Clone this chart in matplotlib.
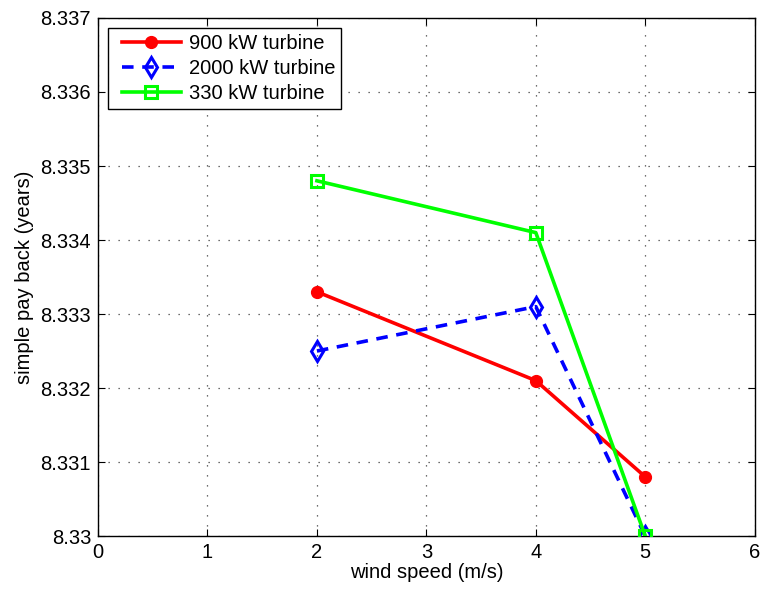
import matplotlib
matplotlib.use("Agg")
import matplotlib.pyplot as plt
from matplotlib.lines import Line2D
from matplotlib.legend_handler import HandlerLine2D

plt.rcParams['font.family'] = ['Liberation Sans', 'DejaVu Sans']

wind_speed = [2, 4, 5]
payback_900 = [8.3333, 8.3321, 8.3308]
payback_2000 = [8.3325, 8.3331, 8.3300]
payback_330 = [8.3348, 8.3341, 8.3300]

FS = 14.5

fig = plt.figure(figsize=(7.6, 5.9), dpi=100)
ax = fig.add_axes([0.129, 0.0915, 0.864, 0.878])

ax.plot(wind_speed, payback_900, color='#ff0000', lw=2.6, marker='o',
        ms=8.5, mfc='#ff0000', mec='#ff0000', label='900 kW turbine', zorder=3)
ax.plot(wind_speed, payback_2000, color='#0000ff', lw=2.6, ls=(0, (3.2, 2.4)),
        marker='d', ms=10, mfc='none', mec='#0000ff', mew=2.2,
        label='2000 kW turbine', zorder=3)
ax.plot(wind_speed, payback_330, color='#00ff00', lw=2.6, marker='s',
        ms=8.5, mfc='none', mec='#00ff00', mew=2.2, label='330 kW turbine', zorder=3)

ax.set_xlim(0, 6)
ax.set_ylim(8.33, 8.337)
ax.set_xticks(range(0, 7))
ax.set_yticks([8.33, 8.331, 8.332, 8.333, 8.334, 8.335, 8.336, 8.337])
ax.set_yticklabels(['8.33', '8.331', '8.332', '8.333', '8.334', '8.335', '8.336', '8.337'])
ax.tick_params(direction='in', top=True, right=True, labelsize=FS, length=5, pad=5)
ax.grid(True, color='#404040', ls=(0, (1, 7)), lw=0.9)
for s in ax.spines.values():
    s.set_linewidth(1)

ax.set_xlabel('wind speed (m/s)', fontsize=FS, labelpad=1)
ax.set_ylabel('simple pay back (years)', fontsize=FS, labelpad=5)

leg = ax.legend(loc='upper left', fontsize=FS, frameon=True, fancybox=False,
                edgecolor='black', framealpha=1, handlelength=3.3,
                borderaxespad=0.5, labelspacing=0.3, borderpad=0.3,
                handletextpad=0.4,
                handler_map={Line2D: HandlerLine2D(xpad=0.4)})
leg.get_frame().set_linewidth(1)

fig.savefig('out.png', dpi=100)
